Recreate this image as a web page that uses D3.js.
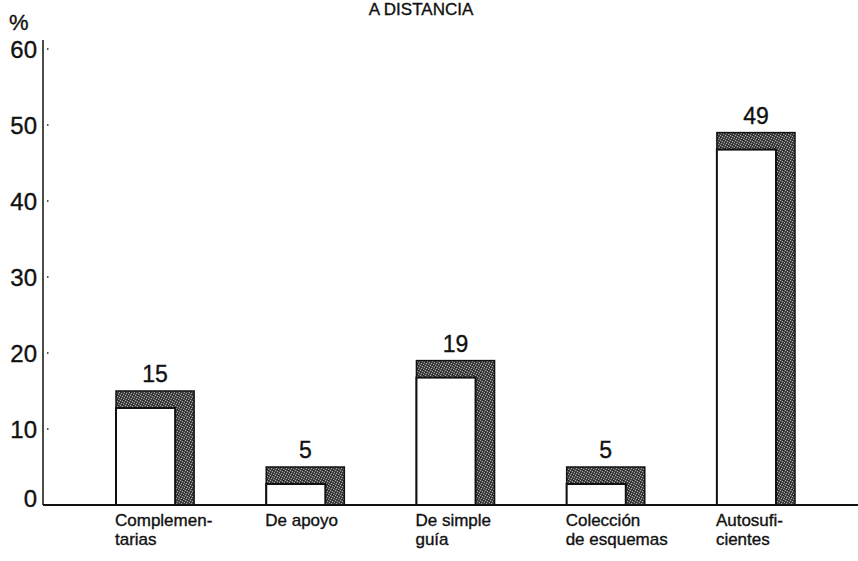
<!DOCTYPE html>
<html><head><meta charset="utf-8">
<script src="https://cdn.jsdelivr.net/npm/d3@7"></script>
<style>body{margin:0;background:#fff}svg{display:block}text{font-family:"Liberation Sans",Arial,Helvetica,sans-serif;fill:#111;stroke:#111;stroke-width:0.35px}</style>
</head><body>
<script>
const categories = ["Complementarias","De apoyo","De simple guía","Colección de esquemas","Autosuficientes"];
const labelLines = [["Complemen-","tarias"],["De apoyo"],["De simple","guía"],["Colección","de esquemas"],["Autosufi-","cientes"]];
const values = [15,5,19,5,49];
const yTicks = [0,10,20,30,40,50,60];
const title = "A DISTANCIA";

const W=858,H=561;
const svg=d3.select("body").append("svg").attr("width",W).attr("height",H);
const defs=svg.append("defs");
const pat=defs.append("pattern").attr("id","stip").attr("width",5).attr("height",5).attr("patternUnits","userSpaceOnUse");
pat.append("rect").attr("width",5).attr("height",5).attr("fill","#444");
[[0,0],[2,1],[4,2],[1,3],[3,4]].forEach(([a,b])=>pat.append("rect").attr("x",a).attr("y",b).attr("width",1).attr("height",1).attr("fill","#a8a8a8"));
[[3,0],[0,2],[2,4]].forEach(([a,b])=>pat.append("rect").attr("x",a).attr("y",b).attr("width",1).attr("height",1).attr("fill","#1e1e1e"));

const x=d3.scaleBand().domain(categories).range([43,868]).paddingInner(0.48).paddingOuter(0.486);
const y=d3.scaleLinear().domain([0,60]).range([505,49]);

svg.append("text").attr("x",421).attr("y",15).attr("text-anchor","middle").attr("font-size",17).text(title);
svg.append("text").attr("x",9).attr("y",30).attr("font-size",22).text("%");

// y axis
svg.append("line").attr("x1",43).attr("x2",43).attr("y1",40).attr("y2",y(0)).attr("stroke","#111").attr("stroke-width",1.5);
const yt=svg.append("g").selectAll("g").data(yTicks).join("g").attr("transform",d=>`translate(0,${y(d)})`);
yt.append("text").attr("x",37).attr("y",d=>d===0?2:9).attr("text-anchor","end").attr("font-size",24).text(d=>d);
yt.filter(d=>d>0).append("line").attr("x1",47).attr("x2",48.5).attr("stroke","#222").attr("stroke-width",1.5);

// bars
const dx=19, dy=17;
const g=svg.append("g").selectAll("g").data(categories).join("g");
g.append("rect").attr("x",d=>x(d)).attr("y",(d,i)=>y(values[i]))
 .attr("width",x.bandwidth()).attr("height",(d,i)=>y(0)-y(values[i]))
 .attr("fill","url(#stip)").attr("stroke","#111").attr("stroke-width",1.5);
g.append("rect").attr("x",d=>x(d)).attr("y",(d,i)=>y(values[i])+dy)
 .attr("width",x.bandwidth()-dx).attr("height",(d,i)=>y(0)-y(values[i])-dy)
 .attr("fill","#fff").attr("stroke","#111").attr("stroke-width",2);
g.append("text").attr("x",d=>x(d)+x.bandwidth()/2).attr("y",(d,i)=>y(values[i])-9)
 .attr("text-anchor","middle").attr("font-size",23).text((d,i)=>values[i]);

// x axis
svg.append("line").attr("x1",43).attr("x2",W).attr("y1",y(0)).attr("y2",y(0)).attr("stroke","#111").attr("stroke-width",1.8);

// category labels (one text per line)
const rows=[];
categories.forEach((c,i)=>labelLines[i].forEach((t,j)=>rows.push({c,t,j})));
svg.append("g").selectAll("text").data(rows).join("text")
 .attr("x",d=>x(d.c)-1).attr("y",d=>526+d.j*19).attr("font-size",17).text(d=>d.t);
</script>
</body></html>
